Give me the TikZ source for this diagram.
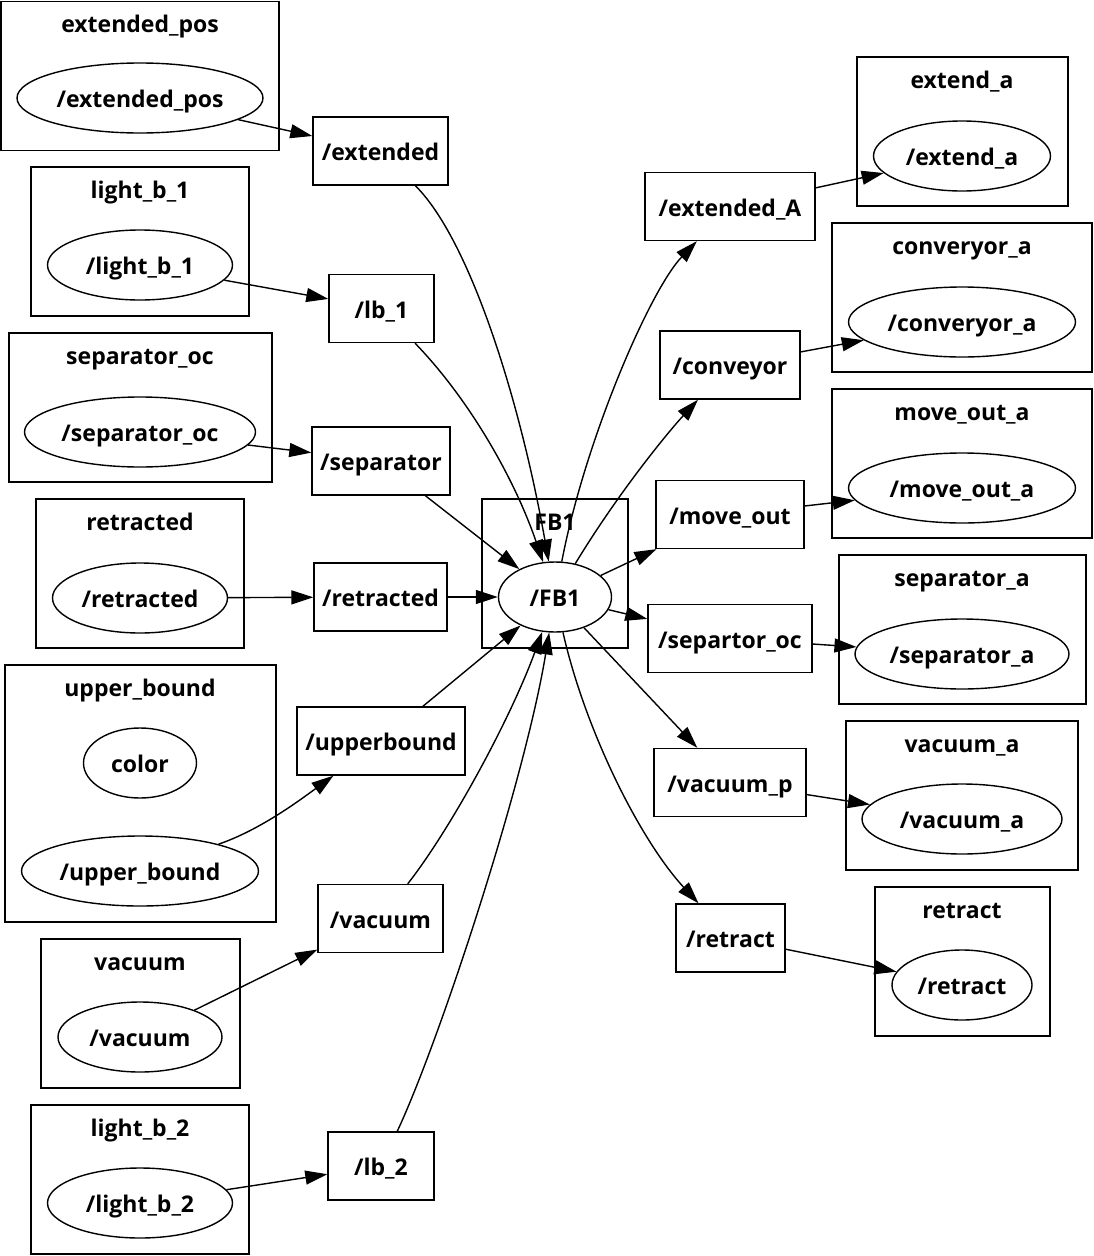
\documentclass[tikz,border=0pt]{standalone}
\usepackage{fontspec}
\setmainfont{Open Sans}
\usetikzlibrary{arrows.meta,shapes.geometric}

\begin{document}
\begin{tikzpicture}[x=1pt, y=-1pt,
  lbl/.style={font=\fontsize{23}{26}\selectfont\bfseries, text height=19.6pt, text depth=0pt},
  grp/.style={draw, line width=1.4pt, minimum height=149pt, inner sep=0pt},
  grptitle/.style={lbl, inner sep=0pt},
  nodeell/.style={draw, ellipse, line width=1.4pt, minimum height=70pt, inner sep=0pt, lbl},
  topic/.style={draw, line width=1.4pt, minimum height=68pt, inner sep=0pt, lbl},
  arrow/.style={-{Triangle[length=22pt,width=14pt]}, line width=1.4pt}
]
\useasboundingbox (0,0) rectangle (1094,1256);

% left groups
\node[grp, minimum width=278pt] (gextpos) at (140,76) {};
\node[grptitle] (textpos) at (140,23) {extended\_pos};
\node[nodeell, minimum width=246pt] (extpos) at (140,98) {/extended\_pos};

\node[grp, minimum width=218pt] (glb1) at (140,241.5) {};
\node[grptitle] (tlb1) at (140,189) {light\_b\_1};
\node[nodeell, minimum width=185pt] (lightb1) at (140,265) {/light\_b\_1};

\node[grp, minimum width=263pt] (gsepoc) at (140.5,407.5) {};
\node[grptitle] (tsepoc) at (140,355) {separator\_oc};
\node[nodeell, minimum width=231pt] (sepoc) at (140,432) {/separator\_oc};

\node[grp, minimum width=208pt] (gretd) at (140,573.5) {};
\node[grptitle] (tretd) at (140,521) {retracted};
\node[nodeell, minimum width=175pt] (retd) at (140,598) {/retracted};

\node[grp, minimum width=271pt, minimum height=257pt] (gupb) at (140.5,793.5) {};
\node[grptitle] (tupb) at (140,687) {upper\_bound};
\node[nodeell, minimum width=113pt] (color) at (140,763) {color};
\node[nodeell, minimum width=237pt] (upb) at (140,871) {/upper\_bound};

\node[grp, minimum width=199pt] (gvac) at (140.5,1013.5) {};
\node[grptitle] (tvac) at (140,961) {vacuum};
\node[nodeell, minimum width=164pt] (vac) at (140,1037) {/vacuum};

\node[grp, minimum width=218pt] (glb2) at (140,1179.5) {};
\node[grptitle] (tlb2) at (140,1127) {light\_b\_2};
\node[nodeell, minimum width=185pt] (lightb2) at (140,1203) {/light\_b\_2};

% topics in
\node[topic, minimum width=135pt] (ext) at (380.5,151) {/extended};
\node[topic, minimum width=105pt] (lb1) at (381.5,308.5) {/lb\_1};
\node[topic, minimum width=138pt] (sep) at (381,461) {/separator};
\node[topic, minimum width=133pt] (rettopic) at (380.5,597) {/retracted};
\node[topic, minimum width=168pt] (upbtopic) at (381,741) {/upperbound};
\node[topic, minimum width=125pt] (vactopic) at (380.5,918.5) {/vacuum};
\node[topic, minimum width=106pt] (lb2) at (381,1166) {/lb\_2};

% FB1
\node[grp, minimum width=146pt] (gfb1) at (555,573.5) {};
\node[grptitle] (tfb1) at (555,521) {FB1};
\node[nodeell, minimum width=113pt] (fb1) at (555,597) {/FB1};

% topics out
\node[topic, minimum width=170pt] (extA) at (730,206.5) {/extended\_A};
\node[topic, minimum width=140pt] (conv) at (730,365) {/conveyor};
\node[topic, minimum width=148pt] (mvout) at (730,514.5) {/move\_out};
\node[topic, minimum width=164pt] (sepoctopic) at (730,638.5) {/separtor\_oc};
\node[topic, minimum width=152pt] (vacp) at (730,782.5) {/vacuum\_p};
\node[topic, minimum width=109pt] (rettopicb) at (730.5,938) {/retract};

% right groups
\node[grp, minimum width=211pt] (gexta) at (962.5,131.5) {};
\node[grptitle] (texta) at (962,79) {extend\_a};
\node[nodeell, minimum width=177pt] (exta) at (962,156) {/extend\_a};

\node[grp, minimum width=260pt] (gconva) at (962,297.5) {};
\node[grptitle] (tconva) at (962,245) {converyor\_a};
\node[nodeell, minimum width=227pt] (conva) at (962,322) {/converyor\_a};

\node[grp, minimum width=260pt] (gmva) at (962,463.5) {};
\node[grptitle] (tmva) at (962,411) {move\_out\_a};
\node[nodeell, minimum width=227pt] (mva) at (962,488) {/move\_out\_a};

\node[grp, minimum width=247pt] (gsepa) at (962.5,629.5) {};
\node[grptitle] (tsepa) at (962,577) {separator\_a};
\node[nodeell, minimum width=214pt] (sepa) at (962,654) {/separator\_a};

\node[grp, minimum width=232pt] (gvaca) at (962,795.5) {};
\node[grptitle] (tvaca) at (962,743) {vacuum\_a};
\node[nodeell, minimum width=200pt] (vaca) at (962,819) {/vacuum\_a};

\node[grp, minimum width=175pt] (greta) at (962.5,961.5) {};
\node[grptitle] (treta) at (962,909) {retract};
\node[nodeell, minimum width=140pt] (reta) at (962,985) {/retract};

% publishers -> topics
\draw[arrow] (extpos) -- (ext);
\draw[arrow] (lightb1) -- (lb1);
\draw[arrow] (sepoc) -- (sep);
\draw[arrow] (retd) -- (rettopic);
\draw[arrow] (upb) .. controls (260,830) and (300,800) .. (upbtopic);
\draw[arrow] (vac) -- (vactopic);
\draw[arrow] (lightb2) -- (lb2);

% topics -> FB1
\draw[arrow] (ext) .. controls (470,240) and (520,400) .. (fb1);
\draw[arrow] (lb1) .. controls (470,400) and (515,480) .. (fb1);
\draw[arrow] (sep) -- (fb1);
\draw[arrow] (rettopic) -- (fb1);
\draw[arrow] (upbtopic) -- (fb1);
\draw[arrow] (vactopic) .. controls (450,830) and (510,720) .. (fb1);
\draw[arrow] (lb2) .. controls (440,1040) and (525,780) .. (fb1);

% FB1 -> topics
\draw[arrow] (fb1) .. controls (585,440) and (650,290) .. (extA);
\draw[arrow] (fb1) .. controls (620,490) and (670,430) .. (conv);
\draw[arrow] (fb1) -- (mvout);
\draw[arrow] (fb1) -- (sepoctopic);
\draw[arrow] (fb1) -- (vacp);
\draw[arrow] (fb1) .. controls (585,730) and (640,840) .. (rettopicb);

% topics -> subscribers
\draw[arrow] (extA) -- (exta);
\draw[arrow] (conv) -- (conva);
\draw[arrow] (mvout) -- (mva);
\draw[arrow] (sepoctopic) -- (sepa);
\draw[arrow] (vacp) -- (vaca);
\draw[arrow] (rettopicb) -- (reta);
\end{tikzpicture}
\end{document}
